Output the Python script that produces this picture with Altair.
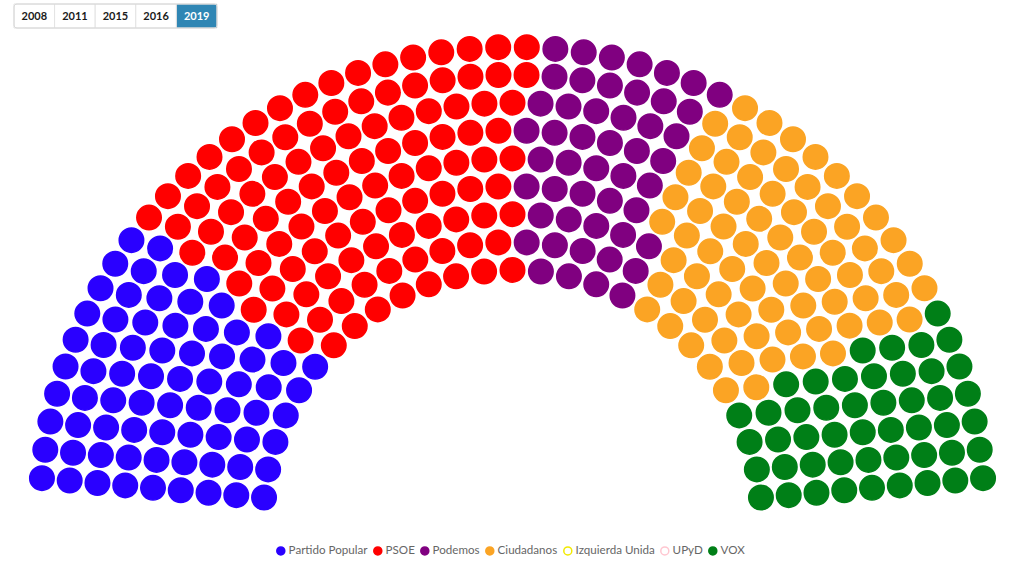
import math
import numpy as np
import pandas as pd
import altair as alt

# Seats per party
parties = ["Partido Popular", "PSOE", "Podemos", "Ciudadanos", "Izquierda Unida", "UPyD", "VOX"]
seats = [72, 107, 49, 74, 0, 0, 48]
fill_colors = ["#2a00ff", "#ff0000", "#800080", "#fba424", "#ffffff", "#ffffff", "#007f17"]
stroke_colors = ["#2a00ff", "#ff0000", "#800080", "#fba424", "#f2ea00", "#ffc6d0", "#007f17"]

# Year selector
years = ["2008", "2011", "2015", "2016", "2019"]
active_year = "2019"

W, H = 1022, 571

# Hemicycle geometry, in pixels
CX, CY = 512.5, 519.3
INNER_R, ROW_GAP, N_ROWS = 249.4, 27.87, 9
SPAN_DEG = 170.0

total = sum(seats)
radii = [INNER_R + k * ROW_GAP for k in range(N_ROWS)]
lengths = [math.radians(SPAN_DEG) * r for r in radii]

# Grow the seat pitch until every row fits the total number of seats
pitch, prev = 20.0, None
while True:
    cols = [math.ceil(L / pitch) for L in lengths]
    count = sum(cols) + N_ROWS
    if count <= total:
        break
    prev = cols
    pitch = round(pitch + 0.01, 2)
if count < total and prev is not None:
    cols = list(prev)
    over = sum(cols) + N_ROWS - total
    while over > 0:
        k = max(range(N_ROWS), key=lambda i: cols[i] / lengths[i])
        cols[k] -= 1
        over -= 1

# Seat slots, outer row first, then ordered by angle
slots = []
for k in reversed(range(N_ROWS)):
    n = cols[k]
    for j in range(n + 1):
        a = SPAN_DEG * j / n
        phi = math.radians(180.0 - (180.0 - SPAN_DEG) / 2 - a)
        slots.append((round(a, 9), CX + radii[k] * math.cos(phi), CY - radii[k] * math.sin(phi)))
slots.sort(key=lambda s: s[0])

labels = np.repeat(parties, seats)
seat_df = pd.DataFrame({
    "x": [s[1] for s in slots[: len(labels)]],
    "y": [s[2] for s in slots[: len(labels)]],
    "party": labels,
})

xs = alt.Scale(domain=[0, W])
ys = alt.Scale(domain=[0, H], reverse=True)

legend = alt.Legend(
    orient="none", legendX=275, legendY=545, direction="horizontal", title=None,
    symbolType="circle", symbolSize=64, symbolStrokeWidth=1.5,
    labelFont="Lato", labelFontSize=11.6, labelColor="#666666",
    columnPadding=2, labelOffset=2, padding=0,
)

seats_layer = alt.Chart(seat_df).mark_circle(size=600, strokeWidth=1.5, opacity=1).encode(
    x=alt.X("x:Q", scale=xs, axis=None),
    y=alt.Y("y:Q", scale=ys, axis=None),
    fill=alt.Fill("party:N", scale=alt.Scale(domain=parties, range=fill_colors), legend=legend),
    stroke=alt.Stroke("party:N", scale=alt.Scale(domain=parties, range=stroke_colors), legend=legend),
)

# Year buttons
BX0, BW, BY0, BY1 = 14.0, 40.6, 4.0, 28.0
btn_df = pd.DataFrame({
    "year": years,
    "x0": [BX0 + i * BW for i in range(len(years))],
    "x1": [BX0 + (i + 1) * BW for i in range(len(years))],
    "y0": [BY0] * len(years),
    "y1": [BY1] * len(years),
    "bg": ["#2f86b4" if y == active_year else "#ffffff" for y in years],
    "fg": ["#ffffff" if y == active_year else "#1a1a1a" for y in years],
})
btn_df["xc"] = (btn_df["x0"] + btn_df["x1"]) / 2
btn_df["yc"] = (btn_df["y0"] + btn_df["y1"]) / 2 + 0.5

buttons = alt.Chart(btn_df).mark_rect(stroke="#e3e3e3", strokeWidth=1).encode(
    x=alt.X("x0:Q", scale=xs, axis=None), x2="x1",
    y=alt.Y("y0:Q", scale=ys, axis=None), y2="y1",
    fill=alt.Fill("bg:N", scale=None),
)
frame_df = pd.DataFrame({"x0": [BX0], "x1": [BX0 + BW * len(years)], "y0": [BY0], "y1": [BY1]})
frame = alt.Chart(frame_df).mark_rect(fill=None, stroke="#d6d6d6", strokeWidth=1, cornerRadius=3).encode(
    x=alt.X("x0:Q", scale=xs, axis=None), x2="x1",
    y=alt.Y("y0:Q", scale=ys, axis=None), y2="y1",
)
btn_text = alt.Chart(btn_df).mark_text(font="Lato", fontSize=11, fontWeight="bold", baseline="middle").encode(
    x=alt.X("xc:Q", scale=xs, axis=None),
    y=alt.Y("yc:Q", scale=ys, axis=None),
    text="year:N",
    color=alt.Color("fg:N", scale=None),
)

chart = (
    alt.layer(buttons, frame, btn_text, seats_layer)
    .resolve_scale(fill="independent", stroke="independent", color="independent")
    .properties(width=W, height=H, padding=0, autosize=alt.AutoSizeParams(type="none"), background="#ffffff")
    .configure_view(strokeWidth=0)
)

chart.save("out.html", embed_options={"renderer": "svg", "actions": False})
